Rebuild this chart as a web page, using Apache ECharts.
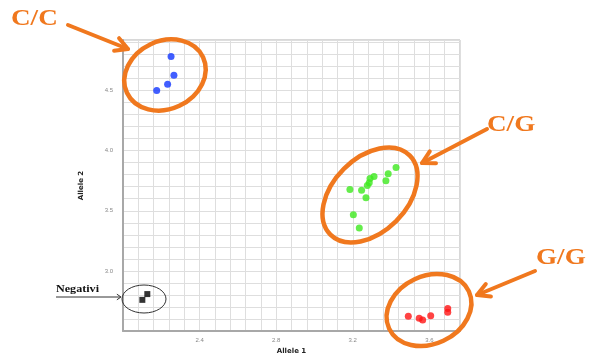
<!DOCTYPE html>
<html>
<head>
<meta charset="utf-8">
<script src="https://cdn.jsdelivr.net/npm/echarts@6/dist/echarts.min.js"></script>
<style>
  html, body { margin: 0; padding: 0; background: #fff; }
  #chart { width: 592px; height: 360px; }
</style>
</head>
<body>
<div id="chart"></div>
<script>
// Genotype clusters: [Allele 1, Allele 2] signal per sample
const ccPoints = [[2.251, 4.782], [2.266, 4.627], [2.233, 4.553], [2.176, 4.500]];
const cgPoints = [
  [3.426, 3.859], [3.385, 3.807], [3.373, 3.749], [3.311, 3.785],
  [3.290, 3.768], [3.286, 3.732], [3.276, 3.710], [3.246, 3.671],
  [3.185, 3.677], [3.269, 3.608], [3.203, 3.467], [3.234, 3.356]
];
const ggPoints = [[3.490, 2.622], [3.547, 2.605], [3.565, 2.591], [3.607, 2.627], [3.696, 2.688], [3.696, 2.655]];
const negPoints = [[2.127, 2.807], [2.101, 2.759]];

const xLabelStep = 0.4;   // labelled x ticks every 0.4
const yLabelStep = 0.5;   // labelled y ticks every 0.5

const ORANGE = '#F0781E';

function onStep(v, step) {
  const r = v / step;
  return Math.abs(r - Math.round(r)) < 1e-6;
}

const chart = echarts.init(document.getElementById('chart'), null, { renderer: 'canvas' });

function arrowHead(tipX, tipY, fromX, fromY, len, spread) {
  const ang = Math.atan2(fromY - tipY, fromX - tipX);
  return [
    [tipX + len * Math.cos(ang + spread), tipY + len * Math.sin(ang + spread)],
    [tipX, tipY],
    [tipX + len * Math.cos(ang - spread), tipY + len * Math.sin(ang - spread)]
  ];
}

function orangeArrow(x1, y1, x2, y2) {
  return [
    { type: 'line', shape: { x1: x1, y1: y1, x2: x2, y2: y2 },
      style: { stroke: ORANGE, lineWidth: 4, lineCap: 'round' }, z: 10 },
    { type: 'polyline', shape: { points: arrowHead(x2, y2, x1, y1, 14, 0.5) },
      style: { stroke: ORANGE, lineWidth: 4, fill: null, lineCap: 'round', lineJoin: 'round' }, z: 10 }
  ];
}

function ring(cx, cy, rx, ry, rotDeg, color, width) {
  return { type: 'ellipse', x: cx, y: cy, rotation: rotDeg * Math.PI / 180,
    shape: { cx: 0, cy: 0, rx: rx, ry: ry },
    style: { fill: null, stroke: color, lineWidth: width }, z: 10 };
}

function label(text, x, y) {
  return { type: 'text', x: x, y: y, z: 11, scaleX: 1.18,
    style: { text: text, fill: ORANGE, font: 'bold 23px "Liberation Serif", serif',
      textAlign: 'left', textVerticalAlign: 'top' } };
}

const graphics = [].concat(
  ring(165, 75, 42, 34, 25, ORANGE, 4.5),
  ring(370, 195, 56, 37, 45, ORANGE, 4.5),
  ring(429, 310, 44, 34, 25, ORANGE, 4.5),
  ring(144, 299, 22, 14, 0, '#333', 1),
  orangeArrow(68, 25, 128, 49),
  orangeArrow(487, 129, 422, 163),
  orangeArrow(535, 271, 477, 295),
  [
    label('C/C', 11, 8),
    label('C/G', 487, 114),
    label('G/G', 536, 247),
    { type: 'text', x: 56, y: 284, z: 11, scaleX: 1.1,
      style: { text: 'Negativi', fill: '#111', font: 'bold 11px "Liberation Serif", serif',
        textAlign: 'left', textVerticalAlign: 'top' } },
    { type: 'line', shape: { x1: 56, y1: 297, x2: 120, y2: 297 },
      style: { stroke: '#333', lineWidth: 1 }, z: 10 },
    { type: 'polyline', shape: { points: arrowHead(121, 297, 56, 297, 5, 0.6) },
      style: { stroke: '#333', lineWidth: 1, fill: null }, z: 10 }
  ]
);

const pointSeries = (name, data, color, symbol, size) => ({
  name: name, type: 'scatter', data: data, symbol: symbol, symbolSize: size,
  itemStyle: { color: color }, z: 5
});

chart.setOption({
  animation: false,
  backgroundColor: '#fff',
  grid: { left: 123, right: 132, top: 40, bottom: 28, show: true, borderColor: '#b0b0b0', borderWidth: 1 },
  xAxis: {
    type: 'value', min: 2.0, max: 3.76, interval: 0.08,
    name: 'Allele 1', nameLocation: 'middle', nameGap: 17,
    nameTextStyle: { fontSize: 7, fontWeight: 'bold', color: '#222', fontFamily: 'DejaVu Sans' },
    axisLine: { show: true, lineStyle: { color: '#a8a8a8', width: 2 } },
    axisTick: { show: false },
    axisLabel: {
      fontSize: 6, color: '#888', margin: 6, showMinLabel: false, showMaxLabel: false,
      formatter: v => (onStep(v, xLabelStep) && v > 2.01) ? v.toFixed(1) : ''
    },
    splitLine: { show: true, lineStyle: { color: '#dedede', width: 1 } }
  },
  yAxis: {
    type: 'value', min: 2.5, max: 4.92, interval: 0.1,
    name: 'Allele 2', nameLocation: 'middle', nameGap: 38, nameRotate: 90,
    nameTextStyle: { fontSize: 7, fontWeight: 'bold', color: '#222', fontFamily: 'DejaVu Sans' },
    axisLine: { show: true, lineStyle: { color: '#a8a8a8', width: 2 } },
    axisTick: { show: false },
    axisLabel: {
      fontSize: 6, color: '#888', margin: 10, showMinLabel: false, showMaxLabel: false,
      formatter: v => (onStep(v, yLabelStep) && v > 2.51) ? v.toFixed(1) : ''
    },
    splitLine: { show: true, lineStyle: { color: '#dedede', width: 1 } }
  },
  series: [
    pointSeries('C/C', ccPoints, '#1236ff', 'circle', 7),
    pointSeries('C/G', cgPoints, '#3de81e', 'circle', 7),
    pointSeries('G/G', ggPoints, '#ff1414', 'circle', 7),
    pointSeries('Negativi', negPoints, '#000', 'rect', 6)
  ],
  graphic: graphics
});
</script>
</body>
</html>
